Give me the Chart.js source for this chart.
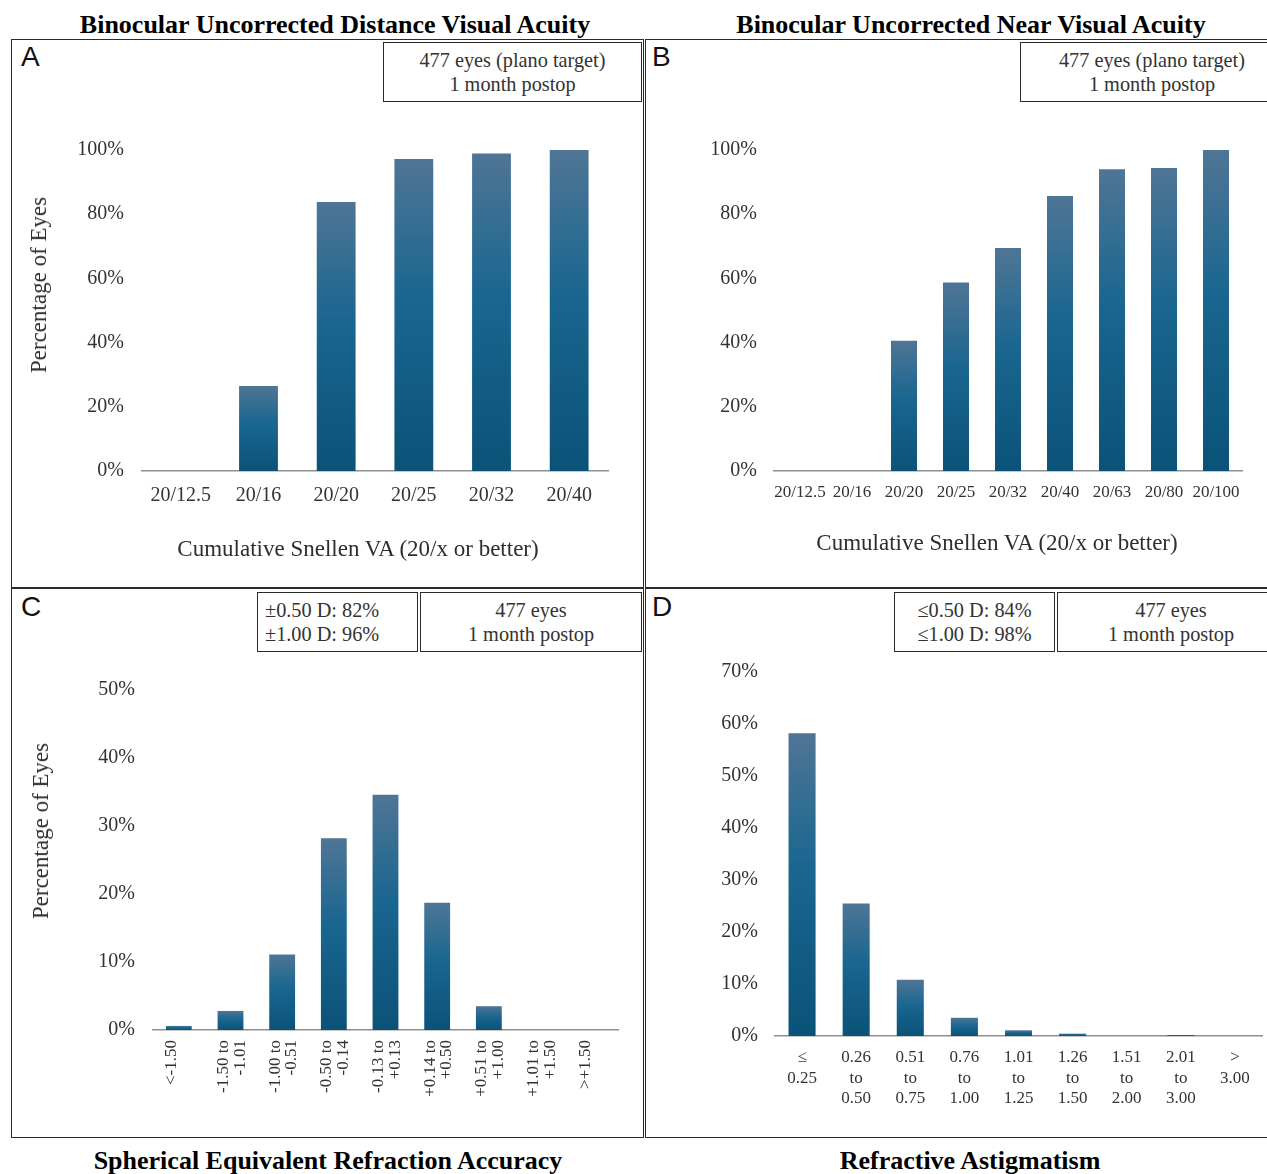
<!DOCTYPE html>
<html>
<head>
<meta charset="utf-8">
<script src="https://cdn.jsdelivr.net/npm/chart.js@4.4.1/dist/chart.umd.min.js"></script>
<style>
  html,body{margin:0;padding:0;background:#fff;}
  body{position:relative;width:1267px;height:1174px;overflow:hidden;font-family:'Liberation Serif','Times New Roman',serif;color:#222;}
  .panel{position:absolute;border:1.5px solid #2a2a2a;box-sizing:border-box;}
  .box{position:absolute;border:1.5px solid #2a2a2a;box-sizing:border-box;font-size:20.3px;line-height:24px;padding-top:5px;color:#333;text-align:center;white-space:nowrap;}
  .box.left{text-align:left;padding-left:7px;}
  .t{position:absolute;white-space:nowrap;transform:translate(-50%,-50%);}
  .head{font-weight:bold;font-size:26px;color:#000;}
  .axt{font-size:23px;color:#2e2e2e;}
  .rot{transform:translate(-50%,-50%) rotate(-90deg);}
  .tag{position:absolute;font-family:'Liberation Sans',Arial,sans-serif;font-size:28px;color:#111;}
  canvas{position:absolute;}
</style>
</head>
<body>
<div class="t head" style="left:335px;top:25px">Binocular Uncorrected Distance Visual Acuity</div>
<div class="t head" style="left:971px;top:25px">Binocular Uncorrected Near Visual Acuity</div>

<div class="panel" style="left:11px;top:39px;width:633px;height:549px"></div>
<div class="panel" style="left:645px;top:39px;width:640px;height:549px"></div>
<div class="panel" style="left:11px;top:588px;width:633px;height:550px"></div>
<div class="panel" style="left:645px;top:588px;width:640px;height:550px"></div>

<div class="tag" style="left:21px;top:41px">A</div>
<div class="tag" style="left:652px;top:41px">B</div>
<div class="tag" style="left:21px;top:591px">C</div>
<div class="tag" style="left:652px;top:591px">D</div>

<div class="box" style="left:383px;top:42px;width:259px;height:60px">477 eyes (plano target)<br>1 month postop</div>
<div class="box" style="left:1020px;top:42px;width:264px;height:60px">477 eyes (plano target)<br>1 month postop</div>
<div class="box left" style="left:257px;top:592px;width:161px;height:60px">&plusmn;0.50 D: 82%<br>&plusmn;1.00 D: 96%</div>
<div class="box" style="left:420px;top:592px;width:222px;height:60px">477 eyes<br>1 month postop</div>
<div class="box" style="left:894px;top:592px;width:161px;height:60px">&le;0.50 D: 84%<br>&le;1.00 D: 98%</div>
<div class="box" style="left:1057px;top:592px;width:228px;height:60px">477 eyes<br>1 month postop</div>

<canvas id="chartA" width="634" height="549" style="left:11px;top:39px"></canvas>
<canvas id="chartB" width="622" height="549" style="left:645px;top:39px"></canvas>
<canvas id="chartC" width="634" height="549" style="left:11px;top:588px"></canvas>
<canvas id="chartD" width="622" height="549" style="left:645px;top:588px"></canvas>

<div class="t axt rot" style="left:39px;top:285px">Percentage of Eyes</div>
<div class="t axt rot" style="left:41px;top:831px">Percentage of Eyes</div>
<div class="t axt" style="left:358px;top:549px">Cumulative Snellen VA (20/x or better)</div>
<div class="t axt" style="left:997px;top:543px">Cumulative Snellen VA (20/x or better)</div>

<div class="t head" style="left:328px;top:1161px">Spherical Equivalent Refraction Accuracy</div>
<div class="t head" style="left:970px;top:1161px">Refractive Astigmatism</div>

<script>
// cumulative uncorrected distance VA, % of eyes
const distLabels = ['20/12.5','20/16','20/20','20/25','20/32','20/40'];
const distPct    = [0, 26.5, 83.8, 97.2, 98.9, 100];

// cumulative uncorrected near VA, % of eyes
const nearLabels = ['20/12.5','20/16','20/20','20/25','20/32','20/40','20/63','20/80','20/100'];
const nearPct    = [0, 0, 40.6, 58.7, 69.5, 85.7, 94.0, 94.4, 100];

// spherical equivalent bins (D)
const seLabels = [
  ['<-1.50'], ['-1.50 to','-1.01'], ['-1.00 to','-0.51'], ['-0.50 to','-0.14'],
  ['-0.13 to','+0.13'], ['+0.14 to','+0.50'], ['+0.51 to','+1.00'], ['+1.01 to','+1.50'], ['>+1.50']
];
const sePct = [0.6, 2.8, 11.1, 28.2, 34.6, 18.7, 3.5, 0, 0];

// refractive cylinder bins (D)
const astigLabels = [
  ['\u2264','0.25'], ['0.26','to','0.50'], ['0.51','to','0.75'], ['0.76','to','1.00'],
  ['1.01','to','1.25'], ['1.26','to','1.50'], ['1.51','to','2.00'], ['2.01','to','3.00'], ['>','3.00']
];
const astigPct = [58.2, 25.5, 10.8, 3.5, 1.1, 0.45, 0, 0.2, 0];

(function(){
  'use strict';
  const SERIF = "'Liberation Serif','Times New Roman',serif";
  const TICK = '#333';

  // vertical fade on each bar: lighter slate on top, deep teal at the base
  function barFill(ctx){
    const chart = ctx.chart, ys = chart.scales && chart.scales.y;
    if(!ys || ctx.type!=='data') return '#155f87';
    const top = ys.getPixelForValue(ctx.raw), base = ys.getPixelForValue(0);
    if(!isFinite(top) || !isFinite(base) || base-top < 1) return '#0c5479';
    const g = chart.ctx.createLinearGradient(0, top, 0, base);
    g.addColorStop(0, '#4f7595');
    g.addColorStop(0.45, '#196690');
    g.addColorStop(1, '#0b5278');
    return g;
  }

  function barChart(id, labels, values, c){
    return new Chart(document.getElementById(id), {
      type:'bar',
      data:{ labels, datasets:[{ data:values, backgroundColor:barFill, borderWidth:0, barPercentage:0.5, categoryPercentage:1 }] },
      options:{
        responsive:false, animation:false, events:[],
        layout:{ padding:{ top:c.top, right:c.right, left:0, bottom:0 } },
        plugins:{ legend:{display:false}, tooltip:{enabled:false} },
        scales:{
          x:{
            grid:{display:false, drawTicks:false},
            border:{display:true, color:'#8f8f8f', width:1.5},
            ticks:{ autoSkip:false, minRotation:c.rot||0, maxRotation:c.rot||0, padding:c.xPad, labelOffset:c.xShift||0,
                    color:TICK, font:{family:SERIF, size:c.xFont, lineHeight:c.xLine||1.2} },
            afterFit:s=>{ s.height = c.xH; }
          },
          y:{
            min:0, max:c.max,
            grid:{display:false, drawTicks:false},
            border:{display:false},
            ticks:{ stepSize:c.step, padding:c.yPad, color:TICK, font:{family:SERIF, size:20}, callback:v=>v+'%' },
            afterFit:s=>{ s.width = c.yW; }
          }
        }
      }
    });
  }

  barChart('chartA', distLabels, distPct,   { top:111, right:37, yW:131, xH:117, max:100, step:20, yPad:18, xPad:13, xFont:20 });
  barChart('chartB', nearLabels, nearPct,   { top:111, right:25, yW:129, xH:117, max:100, step:20, yPad:17, xPad:11, xFont:17 });
  barChart('chartC', seLabels,   sePct,     { top:102, right:27, yW:142, xH:107, max:50,  step:10, yPad:18, xPad:10, xFont:17, xLine:0.98, rot:90, xShift:-7 });
  barChart('chartD', astigLabels, astigPct, { top:84,  right:5,  yW:130, xH:101, max:70,  step:10, yPad:17, xPad:12, xFont:17, xLine:1.18 });
})();
</script>
</body>
</html>
